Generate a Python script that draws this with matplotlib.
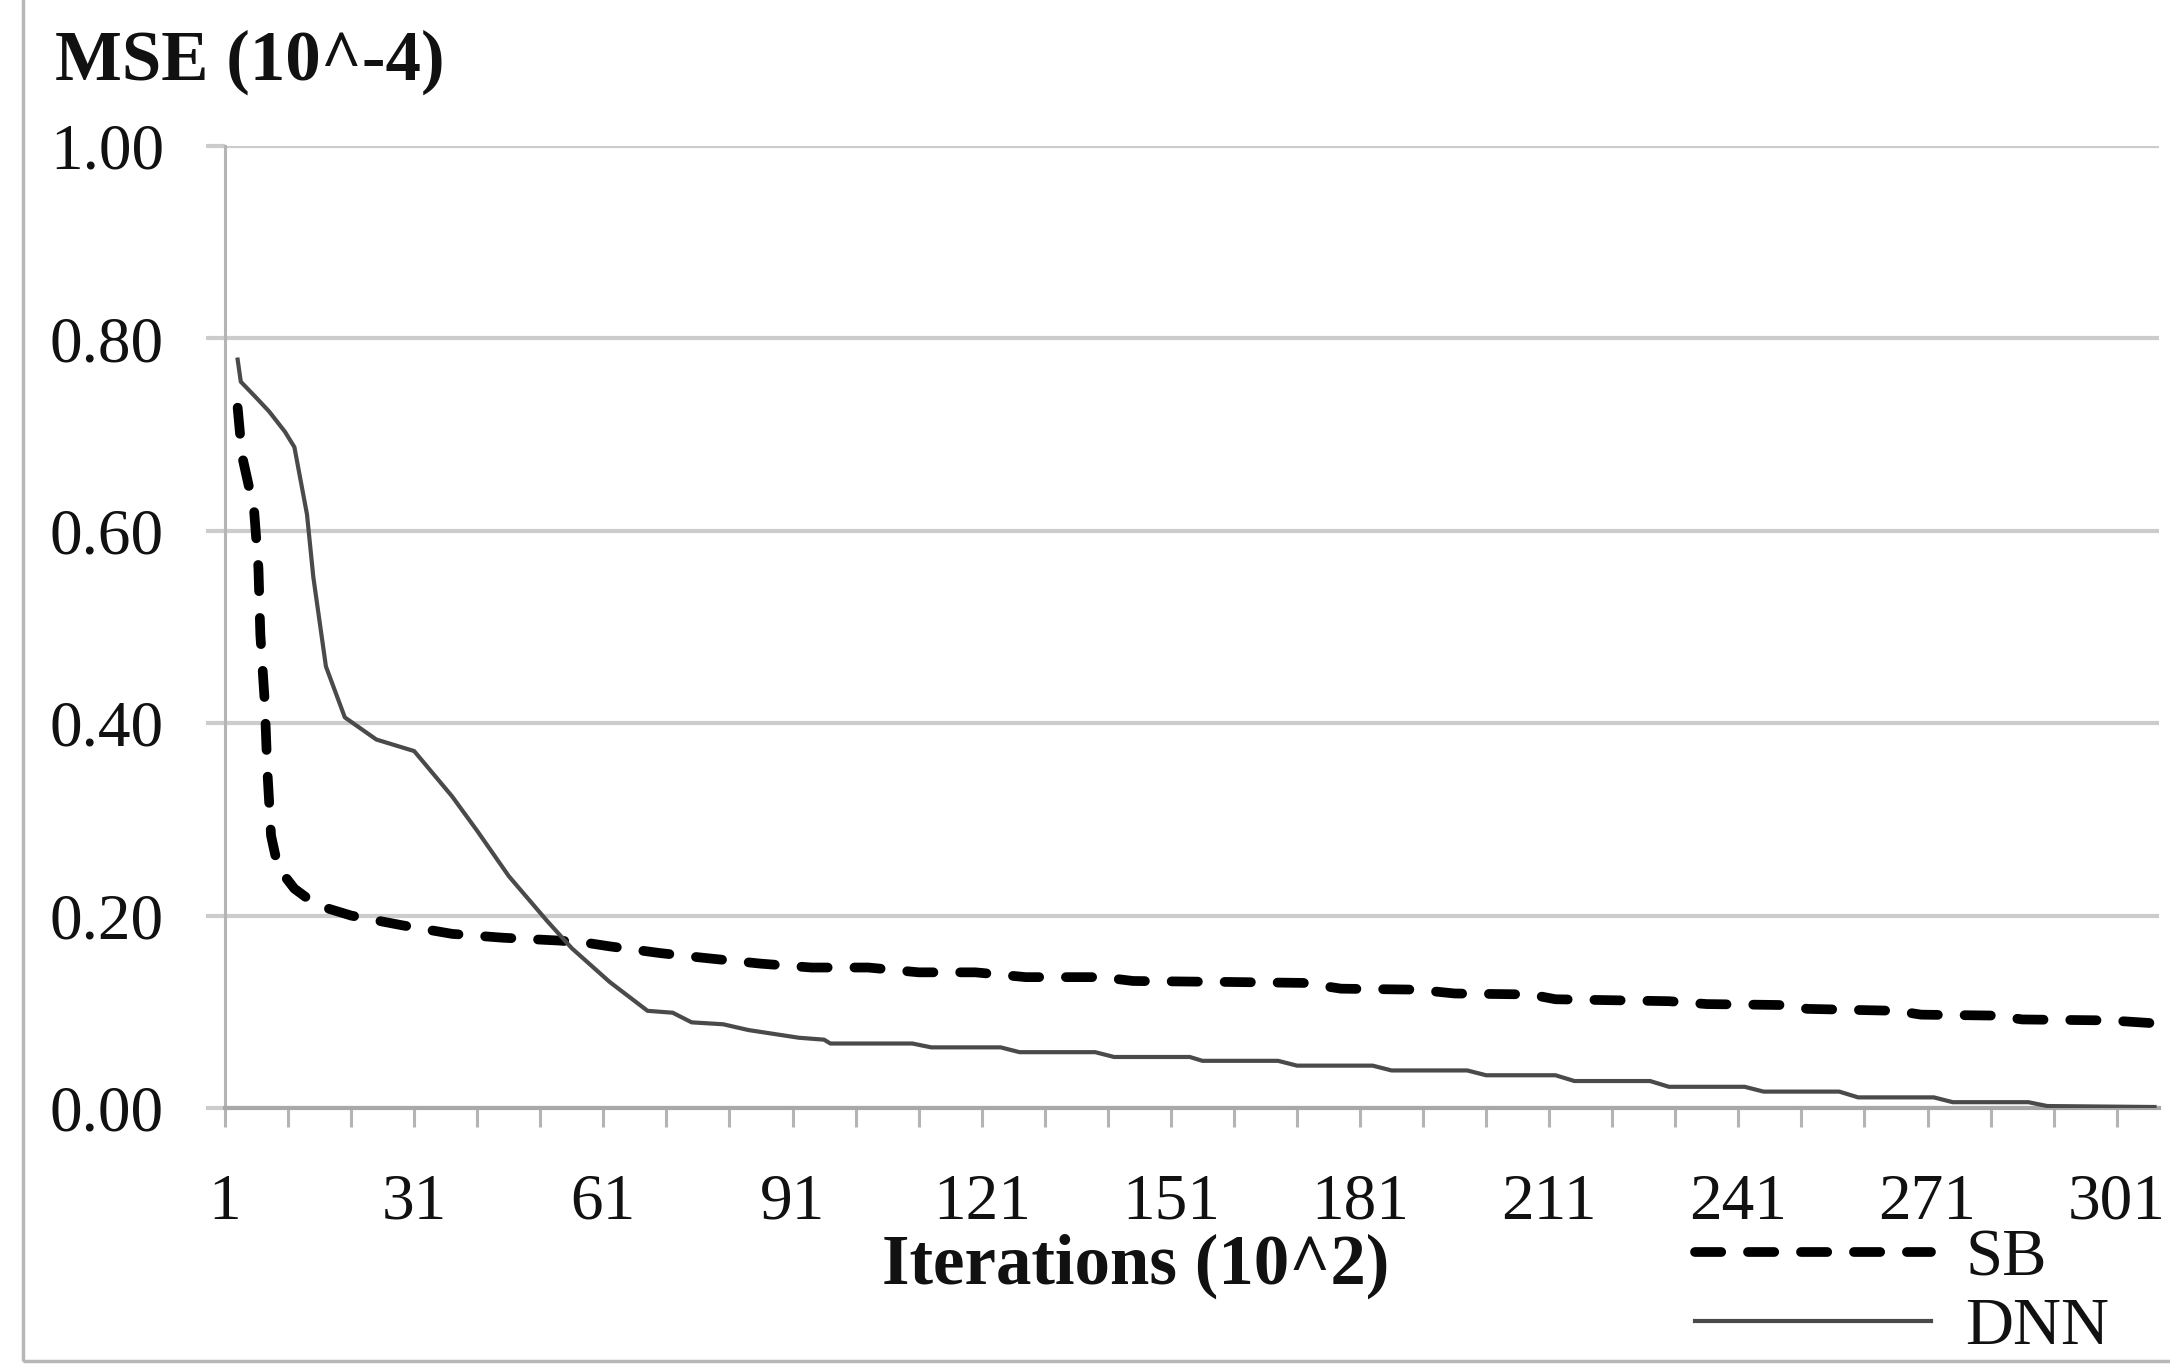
import matplotlib
matplotlib.use("Agg")
import matplotlib.pyplot as plt
from matplotlib.patches import Rectangle
from matplotlib.ticker import FixedLocator

plt.rcParams['font.family'] = ['Liberation Serif', 'DejaVu Serif']

# SB curve (dashed)
sb_x = [3, 3.7, 5.6, 6.3, 6.6, 7.3, 7.7, 8.3, 9.4, 12, 15.5, 21, 29, 37, 45, 54, 58, 62,
        70, 77, 86, 94, 103, 111, 120, 128, 140, 145, 160, 172, 178, 190, 196, 208,
        212, 230, 236, 248, 252, 266, 270, 282, 286, 300, 307]
sb_y = [0.728, 0.678, 0.622, 0.561, 0.492, 0.422, 0.352, 0.283, 0.250, 0.228, 0.211,
        0.200, 0.190, 0.181, 0.177, 0.174, 0.172, 0.168, 0.161, 0.156, 0.150, 0.146,
        0.146, 0.141, 0.141, 0.136, 0.136, 0.132, 0.131, 0.130, 0.124, 0.123, 0.119,
        0.118, 0.113, 0.111, 0.108, 0.107, 0.103, 0.101, 0.097, 0.096, 0.092, 0.091,
        0.088]

# DNN curve (solid)
dnn_x = [3, 3.5, 6, 8, 10.5, 12, 14, 15, 17, 20, 25, 31, 37, 41, 46, 52, 56, 62, 68,
         72, 75, 80, 84, 89, 92, 96, 97, 110, 113, 124, 127, 139, 142, 154, 156, 168,
         171, 183, 186, 198, 201, 212, 215, 227, 230, 242, 245, 257, 260, 272, 275,
         287, 290, 307]
dnn_y = [0.778, 0.755, 0.738, 0.724, 0.703, 0.687, 0.617, 0.552, 0.459, 0.406, 0.383,
         0.371, 0.324, 0.288, 0.241, 0.195, 0.166, 0.131, 0.101, 0.099, 0.089, 0.087,
         0.081, 0.076, 0.073, 0.071, 0.067, 0.067, 0.063, 0.063, 0.058, 0.058, 0.053,
         0.053, 0.049, 0.049, 0.044, 0.044, 0.039, 0.039, 0.034, 0.034, 0.028, 0.028,
         0.022, 0.022, 0.017, 0.017, 0.011, 0.011, 0.006, 0.006, 0.002, 0.001]

x_ticks = [1, 31, 61, 91, 121, 151, 181, 211, 241, 271, 301]
y_ticks = [0.0, 0.2, 0.4, 0.6, 0.8, 1.0]

grid_col = '#cccccc'
axis_col = '#b4b4b4'
text_col = '#111111'

fig = plt.figure(figsize=(21.7, 13.66), dpi=100)
ax = fig.add_axes([0.1037, 0.1889, 0.8912, 0.7042])

sb_line, = ax.plot(sb_x, sb_y, color='black', lw=7, dashes=(2.7, 2.75),
                   dash_capstyle='round', label='SB', zorder=3)
dnn_line, = ax.plot(dnn_x, dnn_y, color='#4a4a4a', lw=3, label='DNN', zorder=4)

ax.set_xlim(1, 307.7)
ax.set_ylim(0, 1.0)
ax.set_yticks(y_ticks)
ax.set_yticklabels([f"{v:.2f}" for v in y_ticks])
ax.set_xticks(x_ticks)
ax.set_xticklabels([str(v) for v in x_ticks])
ax.xaxis.set_minor_locator(FixedLocator(list(range(11, 308, 10))))

ax.grid(axis='y', color=grid_col, lw=3)
ax.set_axisbelow(True)
for s in ['top', 'right']:
    ax.spines[s].set_visible(False)
ax.spines['left'].set_color(axis_col)
ax.spines['left'].set_linewidth(2.2)
ax.spines['bottom'].set_color('#a8a8a8')
ax.spines['bottom'].set_linewidth(3)

ax.tick_params(axis='y', length=14, width=3, color=grid_col, pad=30,
               labelsize=47, labelcolor=text_col)
ax.tick_params(axis='x', which='both', length=14, width=2.2, color=axis_col,
               direction='out')
ax.tick_params(axis='x', which='major', pad=33, labelsize=47, labelcolor=text_col)

fig.text(55 / 2170, 1 - 62 / 1366, "MSE (10^-4)", fontsize=51, fontweight='bold',
         va='center', ha='left', color=text_col)
fig.text(1136 / 2170, 1 - 1266 / 1366, "Iterations (10^2)", fontsize=51,
         fontweight='bold', va='center', ha='center', color=text_col)

leg = ax.legend(handles=[sb_line, dnn_line], loc='upper left',
                bbox_to_anchor=(1695 / 2170, 1 - 1228 / 1366),
                bbox_transform=fig.transFigure, frameon=False, fontsize=48,
                handlelength=3.54, handletextpad=0.51, labelspacing=0.12,
                borderpad=0, borderaxespad=0)
for t in leg.get_texts():
    t.set_color(text_col)

# chart area border
fig.add_artist(Rectangle((23 / 2170, 5 / 1366), 2, 2, transform=fig.transFigure,
                         fill=False, ec='#b8b8b8', lw=2.5))

fig.savefig("out.png", dpi=100)
